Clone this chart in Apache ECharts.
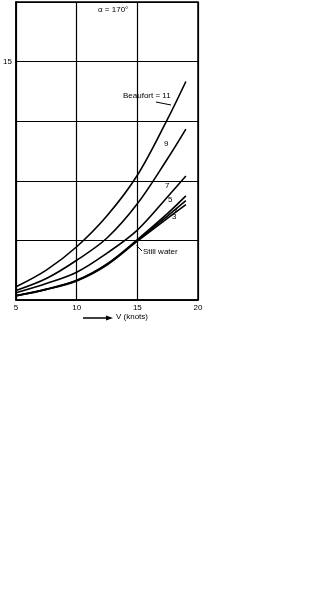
<!DOCTYPE html>
<html>
<head>
<meta charset="utf-8">
<script src="https://cdn.jsdelivr.net/npm/echarts@6/dist/echarts.min.js"></script>
<style>
html,body{margin:0;padding:0;background:#fff;}
#c{width:333px;height:589px;}
</style>
</head>
<body>
<div id="c"></div>
<script>
// Ship speed (knots)
var speeds = [5, 7.5, 10, 12.5, 15, 17.5, 19];
// Power (MW) per sea state
var beaufort11 = [0.83, 1.88, 3.35, 5.3, 7.85, 11.4, 13.75];
var beaufort9  = [0.60, 1.35, 2.5, 3.9, 6.05, 8.9, 10.75];
var beaufort7  = [0.46, 1.04, 1.75, 2.95, 4.4, 6.5, 7.8];
var beaufort5  = [0.28, 0.69, 1.24, 2.27, 3.8, 5.45, 6.55];
var beaufort3  = [0.27, 0.67, 1.22, 2.24, 3.75, 5.3, 6.25];
var stillWater = [0.26, 0.66, 1.2, 2.2, 3.7, 5.15, 6.0];
var seriesNames = ['Beaufort 11', 'Beaufort 9', 'Beaufort 7', 'Beaufort 5', 'Beaufort 3', 'Still water'];
var yTickLabels = [15];

var allValues = [beaufort11, beaufort9, beaufort7, beaufort5, beaufort3, stillWater];
function pairs(vals){ return speeds.map(function(v,i){ return [v, vals[i]]; }); }

var FONT = '"Liberation Sans", Arial, sans-serif';
var chart = echarts.init(document.getElementById('c'), null, {renderer:'canvas'});
var series = allValues.map(function(vals, i){
  return {
    name: seriesNames[i], type:'line', data: pairs(vals), smooth: 0.35,
    symbol:'none', lineStyle:{color:'#000', width:1.6}, animation:false
  };
});
chart.setOption({
  animation:false,
  backgroundColor:'#fff',
  grid:{left:16, top:2, width:182, height:298, show:false, containLabel:false, outerBoundsMode:'none'},
  xAxis:{type:'value', min:5, max:20, interval:5,
    axisLine:{show:true, lineStyle:{color:'#000', width:1.5}, onZero:false},
    axisTick:{show:false},
    axisLabel:{color:'#000', fontSize:8, fontFamily:FONT, margin:4},
    splitLine:{show:true, lineStyle:{color:'#000', width:1.2}}
  },
  yAxis:{type:'value', min:0, max:18.75, interval:3.75,
    name:'MW', nameLocation:'middle', nameRotate:90, nameGap:10,
    nameTextStyle:{color:'#000', fontSize:7, fontFamily:FONT, fontWeight:'bold'},
    axisLine:{show:true, lineStyle:{color:'#000', width:1.5}},
    axisTick:{show:false},
    axisLabel:{color:'#000', fontSize:8, fontFamily:FONT, margin:4,
      formatter:function(v){ return yTickLabels.indexOf(v) >= 0 ? String(v) : ''; }},
    splitLine:{show:true, lineStyle:{color:'#000', width:1.2}}
  },
  series: series,
  graphic:[
    {type:'rect', shape:{x:16, y:2, width:182, height:298}, style:{fill:'none', stroke:'#000', lineWidth:1.5}, silent:true},
    {type:'text', x:98, y:6, style:{text:'α = 170°', font:'8px ' + FONT, fill:'#000'}},
    {type:'text', x:123, y:92, style:{text:'Beaufort = 11', font:'8px ' + FONT, fill:'#000'}},
    {type:'line', shape:{x1:156, y1:102, x2:171, y2:105}, style:{stroke:'#000', lineWidth:1}},
    {type:'text', x:164, y:140, style:{text:'9', font:'8px ' + FONT, fill:'#000'}},
    {type:'text', x:165, y:182, style:{text:'7', font:'8px ' + FONT, fill:'#000'}},
    {type:'text', x:168, y:196, style:{text:'5', font:'8px ' + FONT, fill:'#000'}},
    {type:'text', x:172, y:213, style:{text:'3', font:'8px ' + FONT, fill:'#000'}},
    {type:'line', shape:{x1:175, y1:213, x2:177, y2:208}, style:{stroke:'#000', lineWidth:0.8}},
    {type:'text', x:143, y:248, style:{text:'Still water', font:'8px ' + FONT, fill:'#000'}},
    {type:'line', shape:{x1:136.5, y1:245.5, x2:142, y2:251}, style:{stroke:'#000', lineWidth:1}},
    {type:'line', shape:{x1:83, y1:318, x2:107, y2:318}, style:{stroke:'#000', lineWidth:1.5}},
    {type:'polygon', shape:{points:[[106,315.5],[113,318],[106,320.5]]}, style:{fill:'#000'}},
    {type:'text', x:116, y:313, style:{text:'V (knots)', font:'8px ' + FONT, fill:'#000'}}
  ]
});
</script>
</body>
</html>
